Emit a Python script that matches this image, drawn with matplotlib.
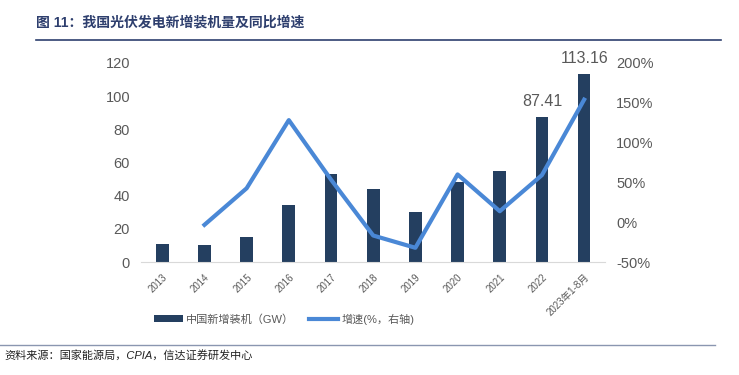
import numpy as np
import matplotlib.pyplot as plt
from matplotlib.ticker import FuncFormatter

plt.rcParams['font.family'] = ['Liberation Sans', 'Noto Sans CJK SC', 'DejaVu Sans']

# data
years = ['2013', '2014', '2015', '2016', '2017', '2018', '2019', '2020', '2021', '2022', '2023年1-8月']
capacity = [10.95, 10.6, 15.13, 34.54, 53.06, 44.26, 30.11, 48.2, 54.88, 87.41, 113.16]
growth = [np.nan, -3.2, 42.7, 128.3, 53.6, -16.6, -32.0, 60.1, 13.9, 59.3, 154.0]
labelled = {9: '87.41', 10: '113.16'}

bar_color = '#243f60'
line_color = '#4a88d6'
tick_color = '#595959'
navy = '#2e3f6e'

fig = plt.figure(figsize=(7.39, 3.75), dpi=100)
ax = fig.add_axes([0.191, 0.301, 0.628, 0.531])
x = np.arange(len(years))

bars = ax.bar(x, capacity, width=0.3, color=bar_color, label='中国新增装机（GW）', zorder=2)
ax.set_ylim(0, 120)
ax.set_yticks(range(0, 121, 20))
ax.set_xlim(-0.5, len(years) - 0.5)
ax.set_xticks(x)
ax.set_xticklabels(years, rotation=45, ha='right', rotation_mode='anchor', fontsize=7, color=tick_color)
ax.tick_params(axis='y', labelsize=10.5, labelcolor=tick_color, length=0, pad=8)
ax.tick_params(axis='x', length=0, pad=7)
for s in ['top', 'right', 'left']:
    ax.spines[s].set_visible(False)
ax.spines['bottom'].set_color('#d9d9d9')

for i, txt in labelled.items():
    ax.text(x[i], capacity[i] + 5, txt, ha='center', va='bottom', fontsize=11.5, color=tick_color)

ax2 = ax.twinx()
ax2.plot(x, growth, color=line_color, lw=3, label='增速(%，右轴)', zorder=3)
ax2.set_ylim(-50, 200)
ax2.set_yticks(range(-50, 201, 50))
ax2.yaxis.set_major_formatter(FuncFormatter(lambda v, p: f'{v:.0f}%'))
ax2.tick_params(axis='y', labelsize=10.5, labelcolor=tick_color, length=0, pad=8)
for s in ax2.spines.values():
    s.set_visible(False)

h1, l1 = ax.get_legend_handles_labels()
h2, l2 = ax2.get_legend_handles_labels()
fig.legend(h1 + h2, l1 + l2, loc='center left', bbox_to_anchor=(0.195, 0.149), ncol=2,
           frameon=False, fontsize=8, labelcolor=tick_color, handlelength=2.6,
           handleheight=0.6, columnspacing=1.3, handletextpad=0.3)

# title, rules and source
fig.text(0.049, 0.94, '图 11：我国光伏发电新增装机量及同比增速', fontsize=10, fontweight='bold',
         color=navy, va='center')
fig.add_artist(plt.Line2D([0.049, 0.975], [0.893, 0.893], color=navy, lw=1.2))
fig.add_artist(plt.Line2D([0.0, 0.968], [0.08, 0.08], color='#8a96b0', lw=1.0))
fig.text(0.006, 0.053, '资料来源：国家能源局，CPIA，信达证券研发中心', fontsize=8, style='italic',
         color='#222222', va='center')

fig.savefig('out.png', dpi=100)
